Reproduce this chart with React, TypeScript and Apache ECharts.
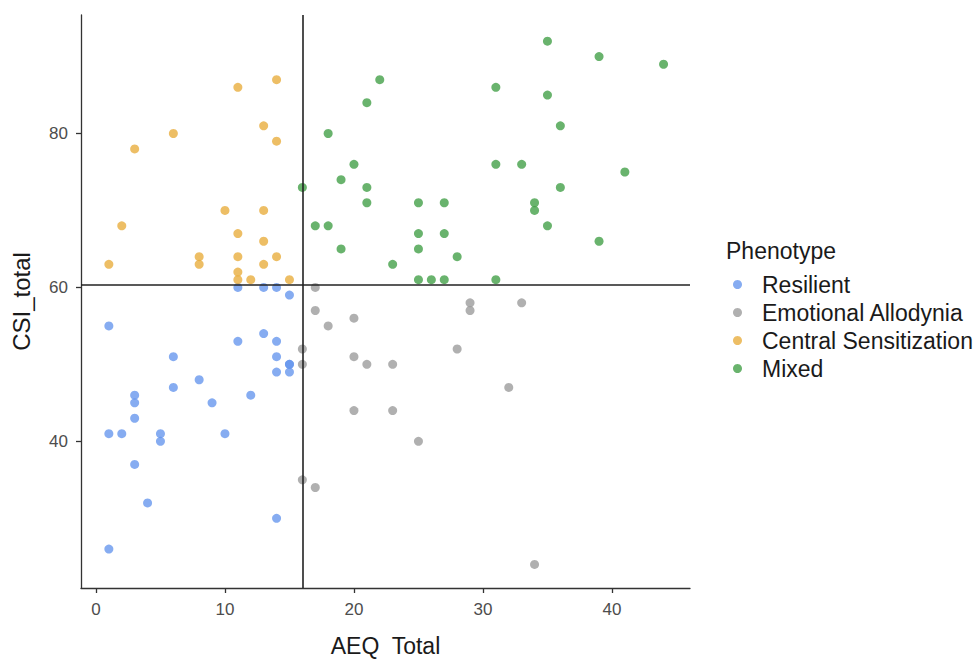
import React, { useEffect, useRef } from "react";
import * as echarts from "echarts";

const seriesNames = ["Resilient", "Emotional Allodynia", "Central Sensitization", "Mixed"];

const resilient: number[][] = [
  [1, 55], [1, 41], [1, 26], [2, 41], [3, 46], [3, 45], [3, 43], [3, 37], [4, 32],
  [5, 41], [5, 40], [6, 51], [6, 47], [8, 48], [9, 45], [10, 41], [11, 60], [11, 53],
  [12, 46], [13, 60], [13, 54], [14, 60], [14, 53], [14, 51], [14, 49], [14, 30],
  [15, 59], [15, 50], [15, 50], [15, 49],
];

const emotionalAllodynia: number[][] = [
  [17, 60], [17, 57], [29, 58], [29, 57], [33, 58], [20, 56], [18, 55], [16, 52],
  [28, 52], [20, 51], [16, 50], [21, 50], [23, 50], [32, 47], [20, 44], [23, 44],
  [25, 40], [16, 35], [17, 34], [34, 24],
];

const centralSensitization: number[][] = [
  [14, 87], [11, 86], [13, 81], [6, 80], [14, 79], [3, 78], [10, 70], [13, 70],
  [2, 68], [11, 67], [13, 66], [8, 64], [8, 63], [11, 64], [14, 64], [1, 63],
  [13, 63], [11, 62], [11, 61], [12, 61], [15, 61],
];

const mixed: number[][] = [
  [35, 92], [39, 90], [44, 89], [22, 87], [31, 86], [35, 85], [21, 84], [36, 81],
  [18, 80], [31, 76], [33, 76], [20, 76], [41, 75], [19, 74], [16, 73], [21, 73],
  [36, 73], [21, 71], [25, 71], [27, 71], [34, 71], [34, 70], [17, 68], [18, 68],
  [35, 68], [25, 67], [27, 67], [39, 66], [19, 65], [25, 65], [28, 64], [23, 63],
  [25, 61], [26, 61], [27, 61], [31, 61],
];

const seriesColors = ["#6495ED", "#9A9A9A", "#E8AC3A", "#3F9E44"];

const xTicks = [0, 10, 20, 30, 40];
const yTicks = [40, 60, 80];
const xCut = 16;
const yCut = 60.4;

const FONT = "'Liberation Sans', Arial, sans-serif";

export default function App() {
  const ref = useRef<HTMLDivElement>(null);
  useEffect(() => {
    if (!ref.current) return;
    const chart = echarts.init(ref.current, null, { renderer: "svg" });
    const datasets = [resilient, emotionalAllodynia, centralSensitization, mixed];
    chart.setOption({
      animation: false,
      backgroundColor: "#ffffff",
      textStyle: { fontFamily: FONT },
      grid: { left: 81, top: 15, width: 609, height: 580, containLabel: false },
      xAxis: {
        type: "value",
        min: -1.16,
        max: 46.05,
        name: "AEQ  Total",
        nameLocation: "middle",
        nameGap: 46,
        nameTextStyle: { fontSize: 23, color: "#1a1a1a", fontFamily: FONT },
        splitLine: { show: false },
        axisLine: { show: true, onZero: false, lineStyle: { color: "#333333", width: 1.3 } },
        axisTick: { show: true, length: 5, customValues: xTicks, lineStyle: { color: "#333333", width: 1.3 } },
        axisLabel: { customValues: xTicks, margin: 13, fontSize: 17, color: "#4d4d4d", fontFamily: FONT },
      },
      yAxis: {
        type: "value",
        min: 20.94,
        max: 95.4,
        name: "CSI_total",
        nameLocation: "middle",
        nameGap: 48,
        nameTextStyle: { fontSize: 24, color: "#1a1a1a", fontFamily: FONT },
        splitLine: { show: false },
        axisLine: { show: true, onZero: false, lineStyle: { color: "#333333", width: 1.3 } },
        axisTick: { show: true, length: 5, customValues: yTicks, lineStyle: { color: "#333333", width: 1.3 } },
        axisLabel: { customValues: yTicks, margin: 13, fontSize: 17, color: "#4d4d4d", fontFamily: FONT },
      },
      legend: {
        data: seriesNames,
        orient: "vertical",
        left: 733,
        top: 273,
        padding: 0,
        itemWidth: 39,
        itemHeight: 9,
        itemGap: 5,
        icon: "circle",
        textStyle: { fontSize: 23, lineHeight: 20, color: "#1a1a1a", fontFamily: FONT },
      },
      graphic: [
        {
          type: "text",
          left: 726,
          top: 239,
          style: { text: "Phenotype", fontSize: 23, fill: "#1a1a1a", fontFamily: FONT },
        },
      ],
      series: [
        {
          name: "refLines",
          type: "line",
          data: [],
          z: 1,
          markLine: {
            silent: true,
            symbol: ["none", "none"],
            label: { show: false },
            lineStyle: { color: "#222222", width: 1.6, type: "solid" },
            data: [{ xAxis: xCut }, { yAxis: yCut }],
          },
        },
        ...seriesNames.map((name, i) => ({
          name,
          type: "scatter",
          data: datasets[i],
          symbol: "circle",
          symbolSize: 9,
          z: 3,
          itemStyle: { color: seriesColors[i], opacity: 0.78 },
        })),
      ],
    });
    return () => chart.dispose();
  }, []);
  return (
    <div
      ref={ref}
      style={{ position: "absolute", left: 0, top: 0, width: 975, height: 662 }}
    />
  );
}
